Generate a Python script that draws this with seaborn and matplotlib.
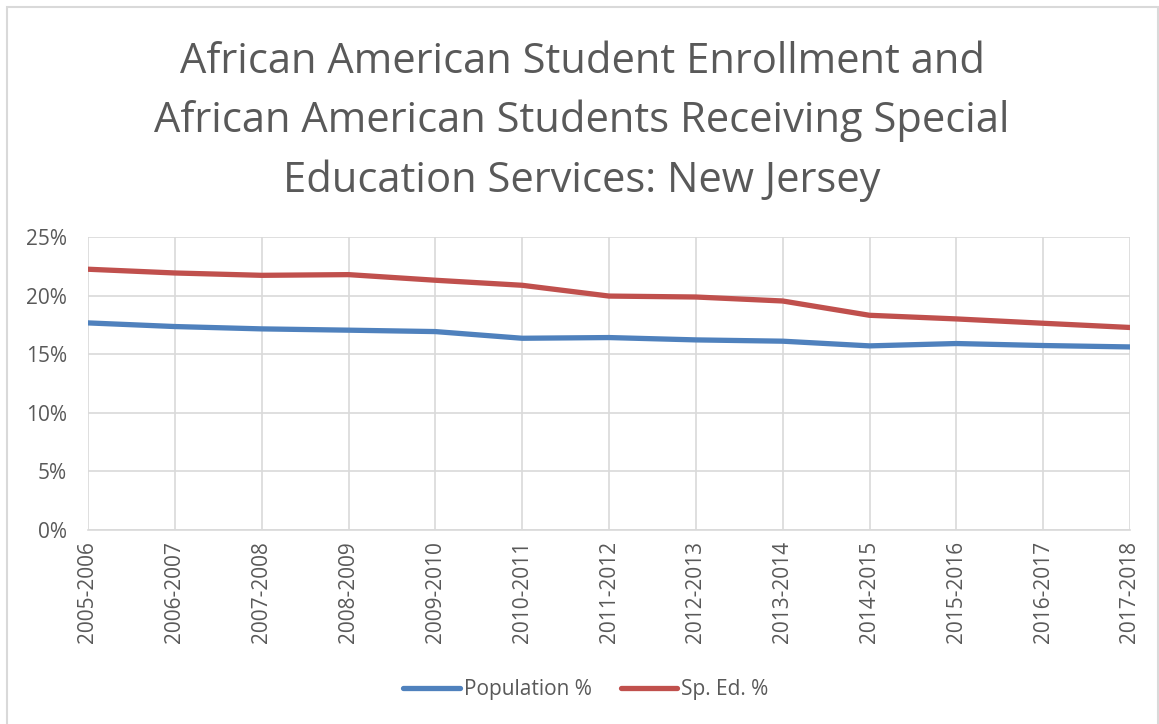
import matplotlib
matplotlib.use("Agg")
import matplotlib.pyplot as plt
import seaborn as sns
import pandas as pd
from matplotlib.patches import Rectangle
from matplotlib.ticker import FuncFormatter

years = ["2005-2006", "2006-2007", "2007-2008", "2008-2009", "2009-2010", "2010-2011",
         "2011-2012", "2012-2013", "2013-2014", "2014-2015", "2015-2016", "2016-2017", "2017-2018"]
population_pct = [17.67, 17.36, 17.16, 17.05, 16.93, 16.36, 16.42, 16.22, 16.11, 15.71, 15.91, 15.74, 15.62]
sped_pct = [22.25, 21.93, 21.73, 21.79, 21.31, 20.88, 19.96, 19.88, 19.54, 18.32, 18.01, 17.64, 17.28]
series_names = ["Population %", "Sp. Ed. %"]
title_lines = ["African American Student Enrollment and",
               "African American Students Receiving Special",
               "Education Services: New Jersey"]

sns.set_theme(style="white")
plt.rcParams['font.family'] = ['Open Sans', 'DejaVu Sans']

df = pd.DataFrame({
    "year": years * 2,
    "idx": list(range(len(years))) * 2,
    "value": population_pct + sped_pct,
    "series": [series_names[0]] * len(years) + [series_names[1]] * len(years),
})

W, H = 1159, 724
fig = plt.figure(figsize=(W / 100, H / 100), dpi=100)
ax = fig.add_axes([88 / W, 1 - 530 / H, (1130 - 88) / W, (530 - 237) / H])

fig.patches.append(Rectangle((7 / W, -0.05), (1158 - 7) / W, 1.05 - 7 / H, transform=fig.transFigure,
                             fill=False, edgecolor="#D9D9D9", linewidth=1.5))

sns.lineplot(data=df, x="idx", y="value", hue="series", ax=ax,
             palette={series_names[0]: "#4F81BD", series_names[1]: "#C0504D"},
             linewidth=3.8, legend=True)

ax.set_xlim(0, len(years) - 1)
ax.set_ylim(0, 25)
ax.set_yticks([0, 5, 10, 15, 20, 25])
ax.yaxis.set_major_formatter(FuncFormatter(lambda v, p: f"{int(v)}%"))
ax.set_xticks(range(len(years)))
ax.set_xticklabels(years, rotation=90)
ax.tick_params(axis="both", labelsize=15, colors="#595959", length=0)
ax.tick_params(axis="y", pad=15)
ax.tick_params(axis="x", pad=8)
ax.set_xlabel("")
ax.set_ylabel("")
ax.grid(True, color="#D9D9D9", linewidth=1.2)
ax.set_axisbelow(True)
for s in ["top", "right", "left"]:
    ax.spines[s].set_visible(False)
ax.spines["bottom"].set_color("#D9D9D9")
ax.spines["bottom"].set_linewidth(1.2)

for i, line in enumerate(title_lines):
    fig.text(582 / W, 1 - (73 + 59.5 * i) / H, line, ha="center", va="baseline",
             fontsize=30, color="#595959")

handles, labels = ax.get_legend_handles_labels()
ax.legend(handles, labels, loc="center", bbox_to_anchor=(586 / W, 1 - 690 / H),
          bbox_transform=fig.transFigure, ncol=2, frameon=False, fontsize=15,
          labelcolor="#595959", handlelength=2.7, handletextpad=0.2, columnspacing=1.4)

fig.savefig("out.png", dpi=100)
